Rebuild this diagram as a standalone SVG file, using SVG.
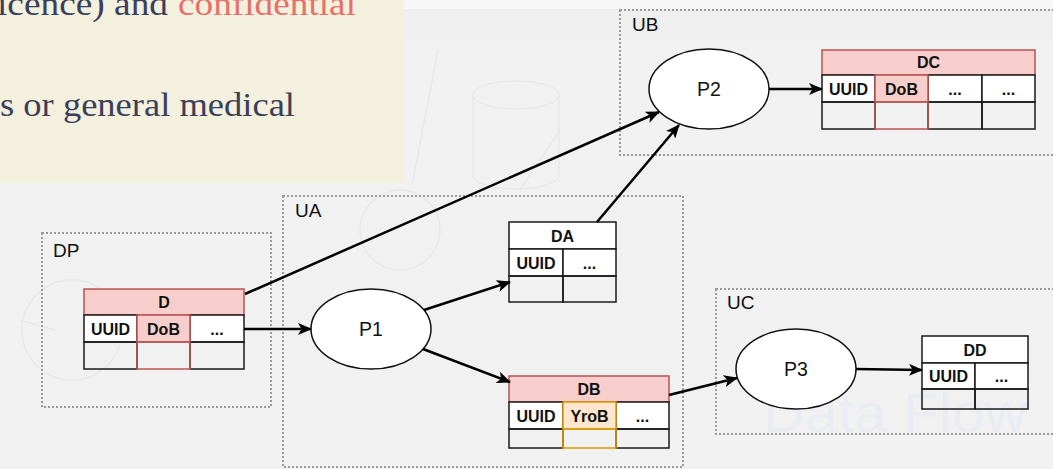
<svg xmlns="http://www.w3.org/2000/svg" width="1053" height="469" viewBox="0 0 1053 469">
<style>
.cont{fill:none;stroke:#9a9a9a;stroke-width:2;stroke-dasharray:2 2}
.clab{font-family:"Liberation Sans",Arial,sans-serif;font-size:19px;fill:#111}
.cell{fill:#fff;stroke:#1a1a1a;stroke-width:1.5}
.empty{fill:none;stroke:#1a1a1a;stroke-width:1.5}
.red{fill:#f8cecc;stroke:#b85450;stroke-width:1.5}
.redE{fill:none;stroke:#b85450;stroke-width:1.5}
.org{fill:#ffe6cc;stroke:#d79b00;stroke-width:1.5}
.orgE{fill:none;stroke:#d79b00;stroke-width:1.5}
.t{font-family:"Liberation Sans",Arial,sans-serif;font-size:16px;font-weight:bold;fill:#111;text-anchor:middle}
.proc{fill:#fff;stroke:#111;stroke-width:1.5}
.pt{font-family:"Liberation Sans",Arial,sans-serif;font-size:19.5px;fill:#111;text-anchor:middle}
.edge{fill:none;stroke:#000;stroke-width:2.5;marker-end:url(#arr)}
.faint{fill:none;stroke:#e8e8e8;stroke-width:1.5}
.serif{font-family:"Liberation Serif","DejaVu Serif",Georgia,serif;font-size:34px}
</style>
<defs>
<marker id="arr" markerWidth="14" markerHeight="12" refX="13" refY="6" orient="auto" markerUnits="userSpaceOnUse">
<path d="M0,0 L14,6 L0,12 L3.5,6 Z" fill="#000"/>
</marker>
</defs>
<rect x="0" y="0" width="1053" height="469" fill="#f1f1f1"/>
<rect x="0" y="0" width="1053" height="9" fill="#f7f7f7"/>
<rect x="0" y="9" width="1053" height="31" fill="#efefef"/>
<g id="background-faint">
<path class="faint" d="M473,95 a43,14 0 0 1 86,0 v80 a43,14 0 0 1 -86,0 Z M473,95 a43,14 0 0 0 86,0"/>
<circle class="faint" cx="72" cy="330" r="50"/>
<circle class="faint" cx="400" cy="230" r="40"/>
<path class="faint" d="M438,50 L412,185 M520,190 L560,130 M20,320 L55,330"/>
<text x="763" y="432" font-family="Liberation Sans,Arial,sans-serif" font-size="56" fill="#e9edf3" textLength="264" lengthAdjust="spacingAndGlyphs">Data Flow</text>
</g>
<g id="text-panel">
<rect x="0" y="0" width="404" height="183" fill="#f3f0de"/>
<text class="serif" y="15"><tspan x="-3" fill="#3b3f5a" textLength="171" lengthAdjust="spacingAndGlyphs">icence) and</tspan><tspan x="178" fill="#e8706a" textLength="178" lengthAdjust="spacingAndGlyphs">confidential</tspan></text>
<text class="serif" x="0" y="116" fill="#3b3f5a" textLength="295" lengthAdjust="spacingAndGlyphs">s or general medical</text>
</g>
<g id="DP">
<rect class="cont" x="42" y="233" width="229" height="174"/>
<text class="clab" x="53" y="257">DP</text>
</g>
<g id="UA">
<rect class="cont" x="283" y="196" width="400" height="271"/>
<text class="clab" x="295" y="217">UA</text>
</g>
<g id="UB">
<rect class="cont" x="620" y="10" width="440" height="145"/>
<text class="clab" x="632" y="31">UB</text>
</g>
<g id="UC">
<rect class="cont" x="716" y="289" width="344" height="145"/>
<text class="clab" x="727" y="309">UC</text>
</g>
<g id="table-D">
<rect class="red" x="84" y="289" width="160" height="26"/>
<text class="t" x="164" y="308">D</text>
<rect class="cell" x="84" y="315" width="53" height="27"/>
<rect class="cell" x="190" y="315" width="54" height="27"/>
<rect class="empty" x="84" y="342" width="53" height="27"/>
<rect class="empty" x="190" y="342" width="54" height="27"/>
<rect class="red" x="137" y="315" width="53" height="27"/>
<rect class="redE" x="137" y="342" width="53" height="27"/>
<text class="t" x="110.5" y="334.5">UUID</text>
<text class="t" x="163.5" y="334.5">DoB</text>
<text class="t" x="217" y="334.5">...</text>
</g>
<g id="table-DA">
<rect class="cell" x="509" y="222" width="107" height="27"/>
<text class="t" x="562.5" y="241.5">DA</text>
<rect class="cell" x="509" y="249" width="54" height="27"/>
<rect class="cell" x="563" y="249" width="53" height="27"/>
<rect class="empty" x="509" y="276" width="54" height="26"/>
<rect class="empty" x="563" y="276" width="53" height="26"/>
<text class="t" x="536" y="268.5">UUID</text>
<text class="t" x="589.5" y="268.5">...</text>
</g>
<g id="table-DB">
<rect class="red" x="509" y="376" width="160" height="26"/>
<text class="t" x="589" y="395">DB</text>
<rect class="cell" x="509" y="402" width="54" height="27"/>
<rect class="cell" x="616" y="402" width="53" height="27"/>
<rect class="empty" x="509" y="429" width="54" height="19"/>
<rect class="empty" x="616" y="429" width="53" height="19"/>
<rect class="org" x="563" y="402" width="53" height="27"/>
<rect class="orgE" x="563" y="429" width="53" height="19"/>
<text class="t" x="536" y="421.5">UUID</text>
<text class="t" x="589.5" y="421.5">YroB</text>
<text class="t" x="642.5" y="421.5">...</text>
</g>
<g id="table-DC">
<rect class="red" x="822" y="50" width="213" height="25"/>
<text class="t" x="928.5" y="68">DC</text>
<rect class="cell" x="822" y="75" width="53" height="27"/>
<rect class="cell" x="928" y="75" width="54" height="27"/>
<rect class="cell" x="982" y="75" width="53" height="27"/>
<rect class="empty" x="822" y="102" width="53" height="27"/>
<rect class="empty" x="928" y="102" width="54" height="27"/>
<rect class="empty" x="982" y="102" width="53" height="27"/>
<rect class="red" x="875" y="75" width="53" height="27"/>
<rect class="redE" x="875" y="102" width="53" height="27"/>
<text class="t" x="848.5" y="94.5">UUID</text>
<text class="t" x="901.5" y="94.5">DoB</text>
<text class="t" x="955" y="94.5">...</text>
<text class="t" x="1008.5" y="94.5">...</text>
</g>
<g id="table-DD">
<rect class="cell" x="922" y="336" width="106" height="27"/>
<text class="t" x="975" y="355.5">DD</text>
<rect class="cell" x="922" y="363" width="53" height="26"/>
<rect class="cell" x="975" y="363" width="53" height="26"/>
<rect class="empty" x="922" y="389" width="53" height="20"/>
<rect class="empty" x="975" y="389" width="53" height="20"/>
<text class="t" x="948.5" y="382">UUID</text>
<text class="t" x="1001.5" y="382">...</text>
</g>
<g id="P1">
<ellipse class="proc" cx="371" cy="329" rx="60" ry="40"/>
<text class="pt" x="371" y="336">P1</text>
</g>
<g id="P2">
<ellipse class="proc" cx="709" cy="89" rx="60" ry="40"/>
<text class="pt" x="709" y="96">P2</text>
</g>
<g id="P3">
<ellipse class="proc" cx="796" cy="369" rx="60" ry="40"/>
<text class="pt" x="796" y="376">P3</text>
</g>
<g id="connectors">
<path class="edge" d="M244,329 L311,329"/>
<path class="edge" d="M245,294 L659,112"/>
<path class="edge" d="M597,222 L679,125"/>
<path class="edge" d="M424,310 L510,282"/>
<path class="edge" d="M423,349 L510,382"/>
<path class="edge" d="M669,395 L737,378"/>
<path class="edge" d="M769,89 L822,89"/>
<path class="edge" d="M856,369 L922,370"/>
</g>
</svg>
